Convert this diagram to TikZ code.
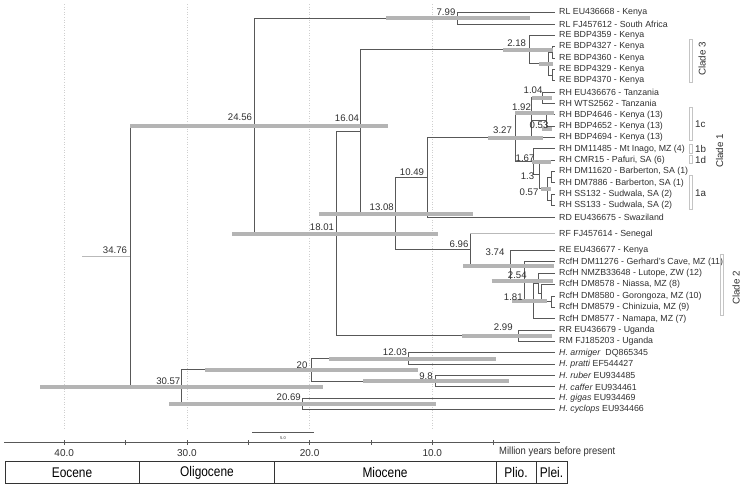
\documentclass[tikz,border=0pt]{standalone}
\usepackage{fontspec}
\setmainfont{Liberation Sans}
\definecolor{brc}{HTML}{585858}
\definecolor{hpdc}{HTML}{B4B4B4}
\definecolor{txt}{HTML}{303030}
\definecolor{gridc}{HTML}{CFCFCF}
\definecolor{boxc}{HTML}{C4C4C4}
\begin{document}
\begin{tikzpicture}[x=1pt,y=-1pt,
  br/.style={draw=brc,line width=0.95pt},
  brl/.style={draw=gray!55,line width=0.8pt},
  hpd/.style={draw=hpdc,line width=4pt},
  gridline/.style={draw=gridc,dotted,line width=0.6pt},
  tiplab/.style={anchor=west,inner sep=0pt,font=\fontsize{8.8}{10}\selectfont,text=txt},
  nlab/.style={inner sep=0pt,font=\fontsize{9.6}{11}\selectfont,text=txt},
  cbox/.style={draw=boxc,line width=0.8pt},
  clab/.style={inner sep=0pt,font=\fontsize{9.8}{11}\selectfont,text=txt},
  axlab/.style={inner sep=0pt,font=\fontsize{10}{12}\selectfont,text=txt},
  eralab/.style={inner sep=0pt,font=\fontsize{14}{16}\selectfont,text=black},
  axline/.style={draw=brc,line width=0.8pt}]
\useasboundingbox (0,0) rectangle (742,488);
\fill[white] (0,0) rectangle (742,488);
% grid lines
\foreach \gx/\gn in {64.2/ga,186.9/gb,309.6/gc,432.3/gd}{
  \coordinate (\gn1) at (\gx,4);
  \coordinate (\gn2) at (\gx,428);
  \draw[gridline] (\gn1) -- (\gn2);
}
% tips
\coordinate (t1) at (555,12.70);
\coordinate (t2) at (555,24.05);
\coordinate (t3) at (555,35.40);
\coordinate (t4) at (555,46.75);
\coordinate (t5) at (555,58.10);
\coordinate (t6) at (555,69.45);
\coordinate (t7) at (555,80.80);
\coordinate (t8) at (555,92.15);
\coordinate (t9) at (555,103.50);
\coordinate (t10) at (555,114.85);
\coordinate (t11) at (555,126.20);
\coordinate (t12) at (555,137.55);
\coordinate (t13) at (555,148.90);
\coordinate (t14) at (555,160.25);
\coordinate (t15) at (555,171.60);
\coordinate (t16) at (555,182.95);
\coordinate (t17) at (555,194.30);
\coordinate (t18) at (555,205.65);
\coordinate (t19) at (555,217.00);
\coordinate (t20) at (555,233.80);
\coordinate (t21) at (555,250.50);
\coordinate (t22) at (555,261.87);
\coordinate (t23) at (555,273.24);
\coordinate (t24) at (555,284.61);
\coordinate (t25) at (555,295.98);
\coordinate (t26) at (555,307.35);
\coordinate (t27) at (555,318.72);
\coordinate (t28) at (555,330.09);
\coordinate (t29) at (555,341.46);
\coordinate (t30) at (555,352.83);
\coordinate (t31) at (555,364.20);
\coordinate (t32) at (555,375.57);
\coordinate (t33) at (555,386.94);
\coordinate (t34) at (555,398.31);
\coordinate (t35) at (555,409.68);
% internal nodes
\coordinate (n799) at (457.7,18.375);
\coordinate (nR45) at (552.7,52.425);
\coordinate (nR67) at (552.7,75.125);
\coordinate (nR4) at (548.3,63.775);
\coordinate (n218) at (529,49.59);
\coordinate (n104) at (542.5,97.825);
\coordinate (n053) at (546,120.525);
\coordinate (nZ) at (531.9,129.04);
\coordinate (n192) at (531.4,113.43);
\coordinate (n057a) at (551,177.275);
\coordinate (n057b) at (551,199.975);
\coordinate (n057) at (547,188.625);
\coordinate (n13) at (539.3,174.44);
\coordinate (n167) at (533.3,161.67);
\coordinate (n327) at (515.7,137.55);
\coordinate (n1049) at (427,177.275);
\coordinate (nA) at (551,301.665);
\coordinate (nB) at (541.7,293.14);
\coordinate (nC) at (538.3,283.19);
\coordinate (n181) at (533.3,300.955);
\coordinate (n254) at (524.3,281.41);
\coordinate (n374) at (510.7,265.96);
\coordinate (n696) at (470,249.88);
\coordinate (n1308) at (395.7,213.58);
\coordinate (n1604) at (360,131.585);
\coordinate (n299) at (518.5,335.775);
\coordinate (n1801) at (336,233.68);
\coordinate (n2456) at (254,126.03);
\coordinate (n1203) at (408,358.515);
\coordinate (n98) at (435.5,381.255);
\coordinate (n20) at (311,369.885);
\coordinate (n2069) at (302,403.995);
\coordinate (n3057) at (181.7,386.94);
\coordinate (root) at (130,256.485);
\coordinate (rootstem) at (82,256.485);
% branches
\draw[brl] (rootstem) -- (root);
\foreach \p/\c in {root/n2456,root/n3057,n2456/n799,n2456/n1801,n799/t1,n799/t2,
  n1801/n1604,n1801/n299,n1604/n218,n1604/n1308,n218/t3,n218/nR4,nR4/nR45,nR4/nR67,
  nR45/t4,nR45/t5,nR67/t6,nR67/t7,n1308/n1049,n1308/n696,n1049/n327,n1049/t19,
  n327/n192,n327/n167,n192/n104,n192/nZ,n104/t8,n104/t9,nZ/n053,nZ/t12,n053/t10,n053/t11,
  n167/t13,n167/n13,n13/t14,n13/n057,n057/n057a,n057/n057b,n057a/t15,n057a/t16,n057b/t17,n057b/t18,
  n696/n374,n374/t21,n374/n254,n254/t22,n254/n181,n181/nC,n181/t27,nC/t23,nC/nB,nB/t24,nB/nA,
  nA/t25,nA/t26,n299/t28,n299/t29,n3057/n20,n3057/n2069,n20/n1203,n20/n98,n1203/t30,n1203/t31,
  n98/t32,n98/t33,n2069/t34,n2069/t35}{
  \draw[br] (\p) |- (\c);
}
\coordinate (rfk) at (n696|-t20);
\draw[br] (n696) -- (rfk);
\draw[brl] (rfk) -- (t20);
% HPD bars
\foreach \n/\a/\b in {n2456/130/388,n799/386/530,n218/503/553,nR4/539/553,n104/531.7/551.7,
  n192/515/554,nZ/541.7/551.7,n327/488/543,n167/531.7/551,n057/541/551,n1308/319/472.7,
  n1801/232/438,n374/463/554,n254/491.7/553,n181/511.7/546.7,n299/462/551.7,n1203/329/496,
  n20/205/418,n98/363/509,n3057/40/323,n2069/169/436}{
  \draw[hpd] (\a,0 |- \n) -- (\b,0 |- \n);
}
% node labels
\node[nlab] (l3476) at (115,250) {34.76};
\node[nlab] (l2456) at (240,117.3) {24.56};
\node[nlab] (l799) at (446,12.3) {7.99};
\node[nlab] (l1604) at (347,118.3) {16.04};
\node[nlab] (l218) at (516.7,43.3) {2.18};
\node[nlab] (l104) at (533,90) {1.04};
\node[nlab] (l192) at (521.5,107.3) {1.92};
\node[nlab] (l053) at (539,125.3) {0.53};
\node[nlab] (l327) at (502.5,130.5) {3.27};
\node[nlab] (l1049) at (412,172) {10.49};
\node[nlab] (l167) at (525,158.3) {1.67};
\node[nlab] (l13) at (527.5,176) {1.3};
\node[nlab] (l057) at (529,191.7) {0.57};
\node[nlab] (l1308) at (381.7,207) {13.08};
\node[nlab] (l1801) at (322,227) {18.01};
\node[nlab] (l696) at (459,244.3) {6.96};
\node[nlab] (l374) at (495,252.3) {3.74};
\node[nlab] (l254) at (517.3,275.3) {2.54};
\node[nlab] (l181) at (513.3,296.7) {1.81};
\node[nlab] (l299) at (503.3,326.7) {2.99};
\node[nlab] (l1203) at (395,351.7) {12.03};
\node[nlab] (l20) at (302,365) {20};
\node[nlab] (l98) at (426,376) {9.8};
\node[nlab] (l2069) at (288.7,397.3) {20.69};
\node[nlab] (l3057) at (168.3,380.7) {30.57};
% tip labels
\begin{scope}[every node/.style={tiplab}]
\node (L1) at ([xshift=4pt]t1) {RL EU436668 - Kenya};
\node (L2) at ([xshift=4pt]t2) {RL FJ457612 - South Africa};
\node (L3) at ([xshift=4pt]t3) {RE BDP4359 - Kenya};
\node (L4) at ([xshift=4pt]t4) {RE BDP4327 - Kenya};
\node (L5) at ([xshift=4pt]t5) {RE BDP4360 - Kenya};
\node (L6) at ([xshift=4pt]t6) {RE BDP4329 - Kenya};
\node (L7) at ([xshift=4pt]t7) {RE BDP4370 - Kenya};
\node (L8) at ([xshift=4pt]t8) {RH EU436676 - Tanzania};
\node (L9) at ([xshift=4pt]t9) {RH WTS2562 - Tanzania};
\node (L10) at ([xshift=4pt]t10) {RH BDP4646 - Kenya (13)};
\node (L11) at ([xshift=4pt]t11) {RH BDP4652 - Kenya (13)};
\node (L12) at ([xshift=4pt]t12) {RH BDP4694 - Kenya (13)};
\node (L13) at ([xshift=4pt]t13) {RH DM11485 - Mt Inago, MZ (4)};
\node (L14) at ([xshift=4pt]t14) {RH CMR15 - Pafuri, SA (6)};
\node (L15) at ([xshift=4pt]t15) {RH DM11620 - Barberton, SA (1)};
\node (L16) at ([xshift=4pt]t16) {RH DM7886 - Barberton, SA (1)};
\node (L17) at ([xshift=4pt]t17) {RH SS132 - Sudwala, SA (2)};
\node (L18) at ([xshift=4pt]t18) {RH SS133 - Sudwala, SA (2)};
\node (L19) at ([xshift=4pt]t19) {RD EU436675 - Swaziland};
\node (L20) at ([xshift=4pt]t20) {RF FJ457614 - Senegal};
\node (L21) at ([xshift=4pt]t21) {RE EU436677 - Kenya};
\node (L22) at ([xshift=4pt]t22) {RcfH DM11276 - Gerhard's Cave, MZ (11)};
\node (L23) at ([xshift=4pt]t23) {RcfH NMZB33648 - Lutope, ZW (12)};
\node (L24) at ([xshift=4pt]t24) {RcfH DM8578 - Niassa, MZ (8)};
\node (L25) at ([xshift=4pt]t25) {RcfH DM8580 - Gorongoza, MZ (10)};
\node (L26) at ([xshift=4pt]t26) {RcfH DM8579 - Chinizuia, MZ (9)};
\node (L27) at ([xshift=4pt]t27) {RcfH DM8577 - Namapa, MZ (7)};
\node (L28) at ([xshift=4pt]t28) {RR EU436679 - Uganda};
\node (L29) at ([xshift=4pt]t29) {RM FJ185203 - Uganda};
\node (L30) at ([xshift=4pt]t30) {\textit{H. armiger}\ \ DQ865345};
\node (L31) at ([xshift=4pt]t31) {\textit{H. pratti} EF544427};
\node (L32) at ([xshift=4pt]t32) {\textit{H. ruber} EU934485};
\node (L33) at ([xshift=4pt]t33) {\textit{H. caffer} EU934461};
\node (L34) at ([xshift=4pt]t34) {\textit{H. gigas} EU934469};
\node (L35) at ([xshift=4pt]t35) {\textit{H. cyclops} EU934466};
\end{scope}
% clade boxes
\draw[cbox] (689.3,39.3) rectangle (692.7,82.7);
\node[clab,rotate=90] (c3) at (702,59) {Clade 3};
\draw[cbox] (689.3,107.3) rectangle (692.7,140);
\node[clab,anchor=west] (c1c) at (695,124) {1c};
\draw[cbox] (689.3,144) rectangle (692.7,153.3);
\node[clab,anchor=west] (c1b) at (695,149) {1b};
\draw[cbox] (689.3,155.3) rectangle (692.7,163.5);
\node[clab,anchor=west] (c1d) at (695,159.8) {1d};
\draw[cbox] (689.3,175) rectangle (692.7,209.3);
\node[clab,anchor=west] (c1a) at (695,192.7) {1a};
\node[clab,rotate=90] (c1) at (719.5,151) {Clade 1};
\draw[cbox] (720,254.3) rectangle (723.7,315.7);
\node[clab,rotate=90] (c2) at (736,288) {Clade 2};
% scale bar
\coordinate (sb1) at (252.4,432.3);
\coordinate (sb2) at (313.7,432.3);
\draw[axline] (sb1) -- (sb2);
\node[inner sep=0pt,font=\fontsize{4}{5}\selectfont,text=txt] (sbl) at (283,438.3) {5.0};
% axis
\coordinate (ax1) at (4,442);
\coordinate (ax2) at (560,442);
\draw[axline] (ax1) -- (ax2);
\foreach \tx in {64.2,125.55,186.9,248.25,309.6,370.95,432.3,493.65}{
  \draw[axline] (\tx,440) -- (\tx,444.5);
}
\node[axlab] (a40) at (64.2,453.3) {40.0};
\node[axlab] (a30) at (186.9,453.3) {30.0};
\node[axlab] (a20) at (309.6,453.3) {20.0};
\node[axlab] (a10) at (432.3,453.3) {10.0};
\node[inner sep=0pt,anchor=west,font=\fontsize{10.5}{12}\selectfont,text=txt] (mya) at (499,452) {\scalebox{0.9}[1]{Million years before present}};
% epochs
\draw[draw=black!80,line width=0.8pt] (5,461.7) rectangle (567,483.3);
\foreach \dx in {139.5,274,496,536}{
  \draw[draw=black!80,line width=0.8pt] (\dx,461.7) -- (\dx,483.3);
}
\node[eralab] (e1) at (72,472.5) {\scalebox{0.85}[1]{Eocene}};
\node[eralab] (e2) at (207,472.5) {\scalebox{0.85}[1]{Oligocene}};
\node[eralab] (e3) at (385,472.5) {\scalebox{0.85}[1]{Miocene}};
\node[eralab] (e4) at (516,472.5) {\scalebox{0.85}[1]{Plio.}};
\node[eralab] (e5) at (551.5,472.5) {\scalebox{0.85}[1]{Plei.}};
\end{tikzpicture}
\end{document}
